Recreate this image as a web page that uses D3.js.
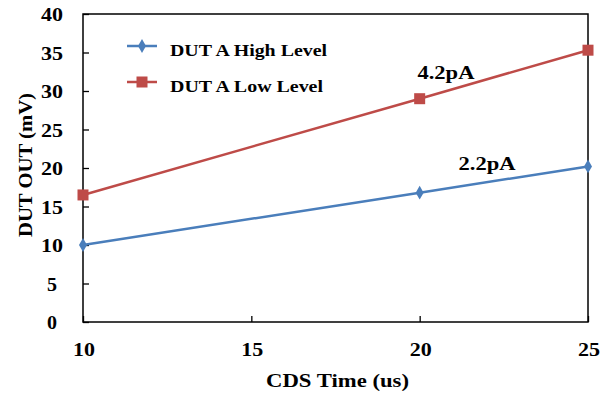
<!DOCTYPE html>
<html><head><meta charset="utf-8">
<script src="https://cdn.jsdelivr.net/npm/d3@7"></script>
<style>body{margin:0;background:#fff}svg{display:block}</style>
</head><body><svg width="615" height="394"></svg>
<script>
const xValues = [10, 20, 25];
const highLevel = [10.0, 16.8, 20.2];
const lowLevel = [16.5, 29.0, 35.3];
const seriesNames = ["DUT A High Level", "DUT A Low Level"];
const xTicks = [10, 15, 20, 25];
const yTicks = [0, 5, 10, 15, 20, 25, 30, 35, 40];
const annotations = [{text: "4.2pA", x: 20.78, y: 32.3}, {text: "2.2pA", x: 22.0, y: 20.5}];

const FONT = "'Liberation Serif', 'Times New Roman', 'DejaVu Serif', serif";
const svg = d3.select("svg");
const L = 83, R = 588, T = 14, B = 322;
const x = d3.scaleLinear().domain([10, 25]).range([L, R]);
const y = d3.scaleLinear().domain([0, 40]).range([B, T]);
const colors = ["#4a7ebb", "#be4b48"];

function txt(s, px, py, size, anchor, width) {
  const t = svg.append("text").attr("x", px).attr("y", py)
    .attr("font-family", FONT).attr("font-weight", "bold").attr("font-size", size)
    .attr("text-anchor", anchor).attr("fill", "#000").text(s);
  if (width) t.attr("textLength", width).attr("lengthAdjust", "spacingAndGlyphs");
  return t;
}

// frame
svg.append("rect").attr("x", L).attr("y", T).attr("width", R - L).attr("height", B - T)
  .attr("fill", "none").attr("stroke", "#000").attr("stroke-width", 1.5);

// y axis ticks (inside)
const ya = svg.append("g").attr("transform", `translate(${L},0)`)
  .call(d3.axisRight(y).tickValues(yTicks).tickSize(6).tickFormat(""));
ya.select(".domain").remove();
ya.selectAll("line").attr("stroke", "#000").attr("stroke-width", 1.3);
yTicks.forEach(v => {
  const s = String(v);
  txt(s, s.length > 1 ? 63 : 57, y(v) + 7, 18, "end", s.length > 1 ? 22 : 10);
});

// x axis ticks (inside)
const xa = svg.append("g").attr("transform", `translate(0,${B})`)
  .call(d3.axisTop(x).tickValues(xTicks).tickSize(6).tickFormat(""));
xa.select(".domain").remove();
xa.selectAll("line").attr("stroke", "#000").attr("stroke-width", 1.3);
xTicks.forEach(v => txt(String(v), x(v) + 1, 356, 18, "middle", 22));

txt("CDS Time (us)", 337.5, 387, 19, "middle", 143);
txt("DUT OUT (mV)", 0, 0, 19, "middle", 144).attr("x", null).attr("y", null)
  .attr("transform", "translate(32,165) rotate(-90)");

const line = d3.line().x(d => x(d[0])).y(d => y(d[1]));
[highLevel, lowLevel].forEach((vals, i) => {
  const pts = xValues.map((xv, j) => [xv, vals[j]]);
  svg.append("path").attr("d", line(pts)).attr("fill", "none").attr("stroke", colors[i]).attr("stroke-width", 2.5);
  pts.forEach(p => {
    if (i === 0) {
      svg.append("path").attr("d", d3.symbol(d3.symbolDiamond, 55)()).attr("transform", `translate(${x(p[0])},${y(p[1])})`).attr("fill", colors[i]);
    } else {
      svg.append("rect").attr("x", x(p[0]) - 5.5).attr("y", y(p[1]) - 5.5).attr("width", 11).attr("height", 11).attr("fill", colors[i]);
    }
  });
});

// legend
const legendWidths = [157, 153];
seriesNames.forEach((n, i) => {
  const ly = 46 + i * 36;
  svg.append("line").attr("x1", 127).attr("x2", 157).attr("y1", ly).attr("y2", ly).attr("stroke", colors[i]).attr("stroke-width", 2.5);
  if (i === 0) svg.append("path").attr("d", d3.symbol(d3.symbolDiamond, 55)()).attr("transform", `translate(142,${ly})`).attr("fill", colors[i]);
  else svg.append("rect").attr("x", 136.5).attr("y", ly - 5.5).attr("width", 11).attr("height", 11).attr("fill", colors[i]);
  txt(n, 170, ly + 9.5, 17, "start", legendWidths[i]);
});

annotations.forEach(a => txt(a.text, x(a.x), y(a.y) + 6, 18, "middle", 57));
</script></body></html>
